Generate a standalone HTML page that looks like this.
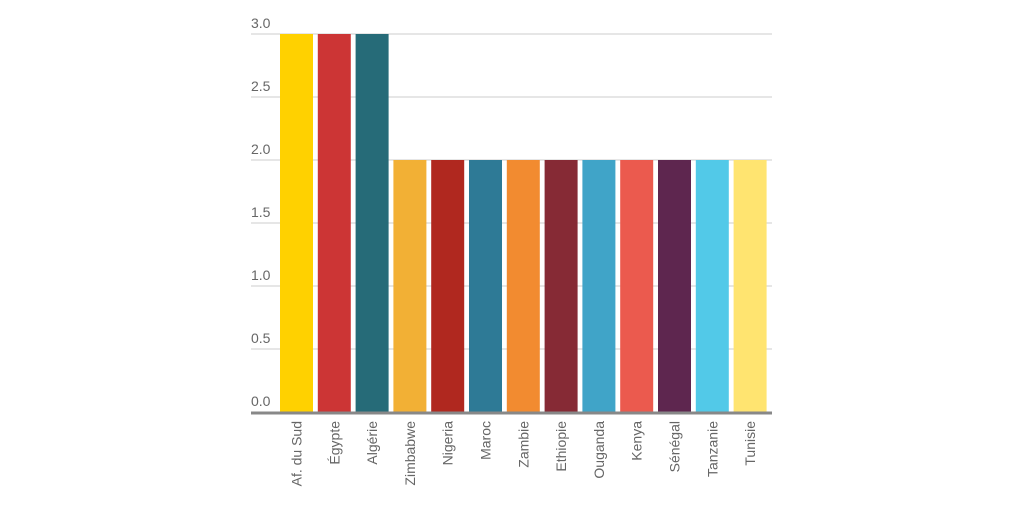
<!DOCTYPE html>
<html><head><meta charset="utf-8"><style>
body{margin:0;background:#fff;width:1024px;height:512px;overflow:hidden}
svg text{font-family:"Liberation Sans",sans-serif;fill:#666;font-size:14px}
</style></head><body>
<svg id="chart" width="1024" height="512" xmlns="http://www.w3.org/2000/svg"></svg>
<script>
const categories=["Af. du Sud","Égypte","Algérie","Zimbabwe","Nigeria","Maroc","Zambie","Ethiopie","Ouganda","Kenya","Sénégal","Tanzanie","Tunisie"];
const values=[3,3,3,2,2,2,2,2,2,2,2,2,2];
const colors=["#FFD100","#CC3535","#266B78","#F2B035","#B0281F","#2E7A96","#F28B30","#862A35","#40A4C8","#EB5A4E","#5E264F","#52C9E8","#FFE470"];
const yTicks=[0,0.5,1,1.5,2,2.5,3];
const yTickLabels=["0.0","0.5","1.0","1.5","2.0","2.5","3.0"];
const svg=document.getElementById('chart');const NS="http://www.w3.org/2000/svg";
const x0=251,x1=772,yTop=34,yBase=412,yMax=3,barStart=280,step=37.8,bw=33;
const y=v=>yBase-(v/yMax)*(yBase-yTop);
const xb=i=>barStart+i*step;
function mk(t,a){const e=document.createElementNS(NS,t);for(const k in a)e.setAttribute(k,a[k]);svg.appendChild(e);return e;}
yTicks.forEach((t,i)=>{
 if(t>0){const l=mk('line',{x1:x0,x2:x1,y1:y(t),y2:y(t),stroke:'#ccc','stroke-width':1});
 
 }
 const tx=mk('text',{x:x0,y:y(t)-6});tx.textContent=yTickLabels[i];
 
 
});
categories.forEach((c,i)=>{
 const r=mk('rect',{x:xb(i),y:y(values[i]),width:bw,height:yBase-y(values[i]),fill:colors[i]});
 
 
 const cx=xb(i)+bw/2+5;
 const t=mk('text',{x:0,y:0,'text-anchor':'end',transform:`translate(${cx},421) rotate(-90)`});
 t.textContent=c;
 
 
});
const ax=mk('line',{x1:x0,x2:x1,y1:yBase+1,y2:yBase+1,stroke:'#888','stroke-width':3});


</script>
</body></html>
